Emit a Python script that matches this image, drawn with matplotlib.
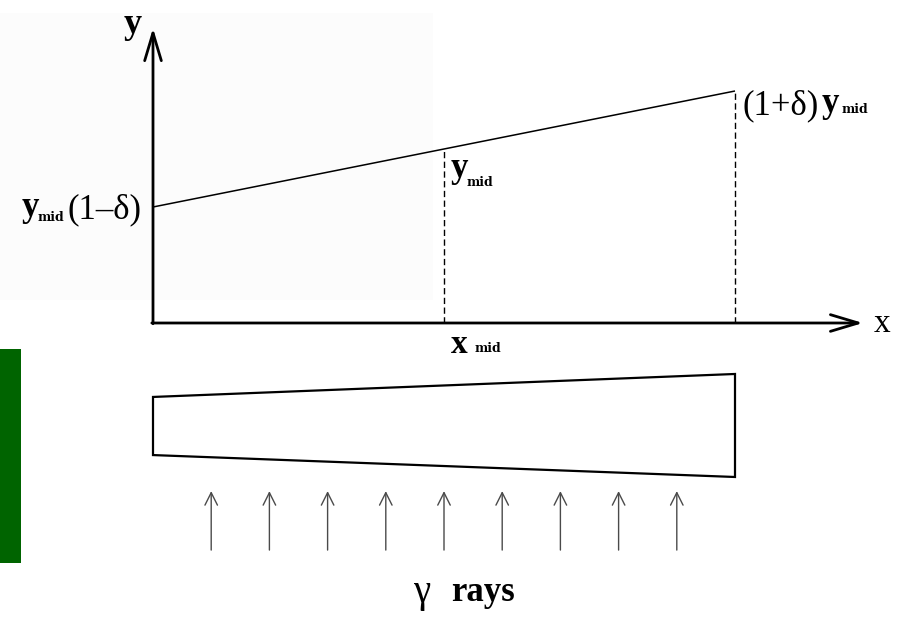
import matplotlib
matplotlib.use("Agg")
import matplotlib.pyplot as plt
from matplotlib.patches import Rectangle, Polygon

plt.rcParams['font.family'] = ['Liberation Serif', 'DejaVu Serif']

# ---- diagram data ----
delta = 1.0 / 3.0
y_mid = 1.0
x_mid = 1.0
x_end = 2.0
line_x = [0.0, x_mid, x_end]
line_y = [y_mid * (1 - delta), y_mid, y_mid * (1 + delta)]

# plate (absorber) outline below the graph, graph-x units / graph-y units
plate_x = [0.0, 2.0, 2.0, 0.0]
plate_y = [-0.425, -0.293, -0.885, -0.759]

# gamma rays
ray_x = [0.2, 0.4, 0.6, 0.8, 1.0, 1.2, 1.4, 1.6, 1.8]
ray_tail = -1.305
ray_tip = -0.966

W, H = 905, 620
fig = plt.figure(figsize=(W / 100, H / 100), dpi=100)

# layout overlay (pixel coordinates) for background patches and labels
lay = fig.add_axes([0, 0, 1, 1])
lay.set_xlim(0, W)
lay.set_ylim(H, 0)
lay.axis('off')
lay.add_patch(Rectangle((0, 13), 433, 287, facecolor='#fcfcfc', edgecolor='none', zorder=0))
lay.add_patch(Rectangle((0, 349), 21, 214, facecolor='#006400', edgecolor='none', zorder=1))

# graph axes: origin at pixel (153, 323), 291 px per x unit, 174 px per y unit
ox, oy, sx, sy = 153, 323, 291, 174
ax = fig.add_axes([ox / W, (H - oy) / H, 2 * sx / W, 1.5 * sy / H])
ax.set_xlim(0, 2)
ax.set_ylim(0, 1.5)
ax.axis('off')
ax.patch.set_alpha(0)

# coordinate axes with open arrow heads
axis_style = dict(arrowstyle='->,head_length=1.0,head_width=0.3', lw=2.0, color='black',
                  mutation_scale=20, shrinkA=0, shrinkB=0, joinstyle='miter')
ax.annotate('', xy=(2.44, 0), xytext=(-0.004, 0), arrowprops=axis_style,
            annotation_clip=False)
ax.annotate('', xy=(0, 1.695), xytext=(0, -0.004), arrowprops=axis_style,
            annotation_clip=False)

# sloped line
ax.plot(line_x, line_y, color='black', lw=1.1, clip_on=False, solid_capstyle='butt')

# dashed verticals
for xv, yv in zip(line_x[1:], line_y[1:]):
    ax.plot([xv, xv], [0, yv], color='black', lw=1.0, ls=(0, (4.5, 2.5)), clip_on=False)

# plate
ax.add_patch(Polygon(list(zip(plate_x, plate_y)), closed=True, facecolor='white',
                     edgecolor='black', lw=1.6, clip_on=False, joinstyle='miter'))

# gamma rays
ray_style = dict(arrowstyle='->,head_length=0.9,head_width=0.45', lw=1.0, color='#4a4a4a',
                 mutation_scale=10, shrinkA=0, shrinkB=0)
for xr in ray_x:
    ax.annotate('', xy=(xr, ray_tip), xytext=(xr, ray_tail), arrowprops=ray_style,
                annotation_clip=False)

# ---- labels (pixel positions: left, baseline) ----
def t(x, y, s, size, bold=False, family=None):
    kw = {}
    if family is not None:
        kw['family'] = family
    lay.text(x, y, s, fontsize=size, fontweight='bold' if bold else 'normal',
             ha='left', va='baseline', color='black', zorder=5, **kw)

SUB = ['DejaVu Serif']

# axis labels
t(124, 33, 'y', 26, True)
t(874, 332, 'x', 24)

# y_mid(1−δ)
t(22, 216, 'y', 25, True)
t(38, 221, 'mid', 9, True, SUB)
t(67, 218, '(1\u2013\u03b4)', 25)

# y_mid at x_mid
t(451, 177, 'y', 25, True)
t(467, 186, 'mid', 9, True, SUB)

# (1+δ)y_mid
t(742, 114, '(1+\u03b4)', 25)
t(822, 112, 'y', 25, True)
t(842, 113, 'mid', 9, True, SUB)

# x_mid
t(451, 353, 'x', 24, True)
t(475, 352, 'mid', 9, True, SUB)

# gamma rays caption
t(413, 602, '\u03b3', 28)
t(451, 601, 'rays', 25, True)

fig.savefig('out.png', dpi=100)
